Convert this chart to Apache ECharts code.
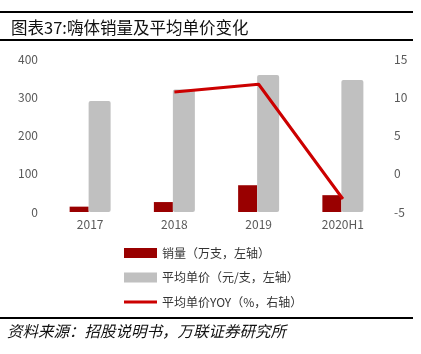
<!DOCTYPE html>
<html>
<head>
<meta charset="utf-8">
<script src="https://cdn.jsdelivr.net/npm/echarts@6/dist/echarts.min.js"></script>
<style>
  html, body { margin: 0; padding: 0; background: #fff; }
  #chart { width: 421px; height: 354px; }
</style>
</head>
<body>
<div id="chart"></div>
<script>
// 数据
const years = ["2017", "2018", "2019", "2020H1"];
const sales = [14, 26, 70, 44];           // 销量（万支）
const avgPrice = [290, 320, 358, 345];     // 平均单价（元/支）
const priceYoy = [null, 10.7, 11.7, -3.3]; // 平均单价YOY（%）

const leftTicks = [0, 400, 100];
const rightTicks = [-5, 15, 5];

const font = '"Noto Sans CJK SC", "Noto Sans", sans-serif';
const axisColor = "#595959";

const chart = echarts.init(document.getElementById("chart"));

const option = {
  animation: false,
  title: {
    text: "图表37:嗨体销量及平均单价变化",
    left: 6,
    top: 14,
    textStyle: { fontFamily: font, fontSize: 16.5, fontWeight: "normal", color: "#111" },
  },
  graphic: [
    { type: "rect", shape: { x: 0, y: 11, width: 413, height: 2 }, style: { fill: "#000" } },
    { type: "rect", shape: { x: 0, y: 39, width: 413, height: 2 }, style: { fill: "#000" } },
    { type: "rect", shape: { x: 0, y: 317, width: 413, height: 2 }, style: { fill: "#000" } },
    {
      type: "text",
      left: 7,
      top: 323,
      style: {
        text: "资料来源：招股说明书，万联证券研究所",
        fontFamily: font,
        fontSize: 15.5,
        fontStyle: "italic",
        fill: "#111",
      },
    },
  ],
  legend: {
    orient: "vertical",
    left: 119,
    top: 242,
    itemWidth: 33,
    itemHeight: 10,
    itemGap: 12.5,
    textStyle: { fontFamily: font, fontSize: 12, color: "#333" },
    data: [
      { name: "销量（万支，左轴）", icon: "rect" },
      { name: "平均单价（元/支，左轴）", icon: "rect" },
      { name: "平均单价YOY（%，右轴）", icon: "path://M0,0 L33,0 L33,3 L0,3 Z" },
    ],
  },
  grid: { left: 48, right: 36, top: 59, bottom: 142 },
  xAxis: {
    type: "category",
    data: years,
    axisLine: { show: false },
    axisTick: { show: false },
    axisLabel: { color: axisColor, fontFamily: font, fontSize: 12, margin: 6 },
  },
  yAxis: [
    {
      type: "value",
      min: leftTicks[0],
      max: leftTicks[1],
      interval: leftTicks[2],
      splitLine: { show: false },
      axisLine: { show: false },
      axisTick: { show: false },
      axisLabel: { color: axisColor, fontFamily: font, fontSize: 12, margin: 10 },
    },
    {
      type: "value",
      min: rightTicks[0],
      max: rightTicks[1],
      interval: rightTicks[2],
      splitLine: { show: false },
      axisLine: { show: false },
      axisTick: { show: false },
      axisLabel: { color: axisColor, fontFamily: font, fontSize: 12, margin: 9 },
    },
  ],
  series: [
    {
      name: "销量（万支，左轴）",
      type: "bar",
      data: sales,
      barWidth: 19,
      barGap: "0%",
      itemStyle: { color: "#990000" },
    },
    {
      name: "平均单价（元/支，左轴）",
      type: "bar",
      data: avgPrice,
      barWidth: 22,
      itemStyle: { color: "#c0c0c0", borderRadius: 2 },
    },
    {
      name: "平均单价YOY（%，右轴）",
      type: "line",
      yAxisIndex: 1,
      data: priceYoy,
      symbol: "none",
      lineStyle: { color: "#cc0000", width: 3 },
      itemStyle: { color: "#cc0000" },
    },
  ],
};

chart.setOption(option);
</script>
</body>
</html>
